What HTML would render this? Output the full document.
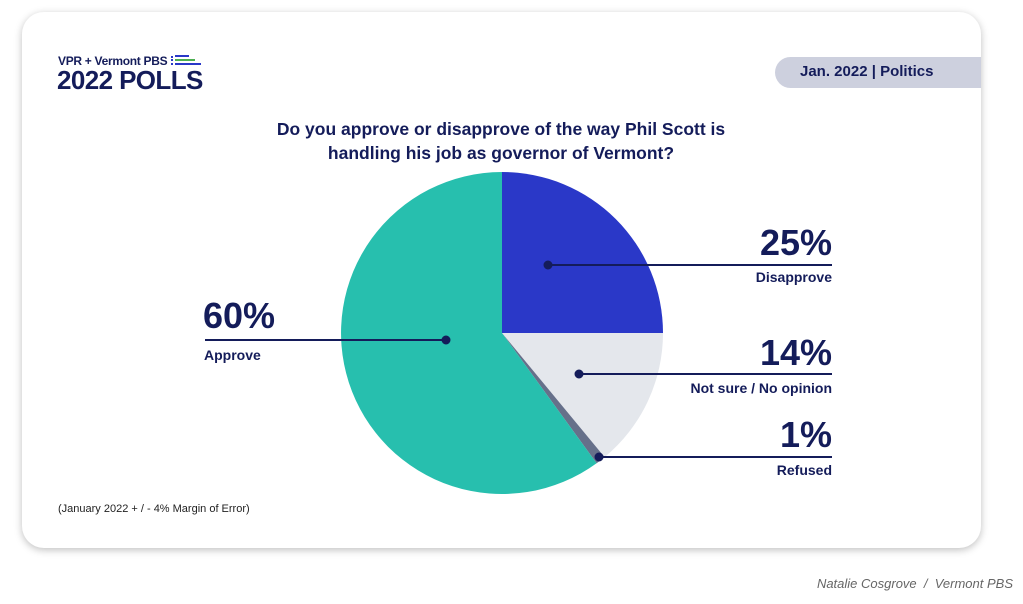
<!DOCTYPE html>
<html><head><style>
body{margin:0;width:1023px;height:604px;background:#fff;position:relative;font-family:"Liberation Sans",sans-serif;overflow:hidden}
.card{position:absolute;left:22px;top:12px;width:959px;height:536px;border-radius:22px;background:#fff;box-shadow:0 2px 8px rgba(0,0,0,.25)}
.t{position:absolute;color:#141c5a;font-weight:bold;white-space:nowrap}
</style></head><body>
<div class="card"></div>
<div class="t" style="left:58px;top:54px;font-size:12px;letter-spacing:-0.3px">VPR + Vermont PBS</div>
<div style="position:absolute;left:171px;top:56px;width:2px;height:9px;border-left:2px dotted #2a38c8"></div>
<div style="position:absolute;left:175px;top:55px;width:14px;height:2px;background:#2a38c8"></div>
<div style="position:absolute;left:175px;top:59px;width:20px;height:2px;background:#4caf50"></div>
<div style="position:absolute;left:175px;top:63px;width:26px;height:2px;background:#2a38c8"></div>
<div class="t" style="left:57px;top:65px;font-size:26px;letter-spacing:-0.6px">2022 POLLS</div>
<div style="position:absolute;left:775px;top:57px;width:206px;height:31px;background:#cdd0de;border-radius:16px 0 0 16px"></div>
<div class="t" style="left:800px;top:63px;font-size:15px">Jan. 2022 | Politics</div>
<div class="t" style="left:200px;top:117px;width:602px;text-align:center;font-size:17.5px;line-height:24px">Do you approve or disapprove of the way Phil Scott is<br>handling his job as governor of Vermont?</div>
<svg style="position:absolute;left:0;top:0" width="1023" height="604">
<path d="M502,333 L502,172 A161,161 0 0 1 663,333 Z" fill="#2a38c8"/>
<path d="M502,333 L663,333 A161,161 0 0 1 604.6,457.1 Z" fill="#e4e7ec"/>
<path d="M502,333 L604.6,457.1 A161,161 0 0 1 596.6,463.3 Z" fill="#66708a"/>
<path d="M502,333 L596.6,463.3 A161,161 0 1 1 502,172 Z" fill="#27bfae"/>
<g stroke="#141c5a" stroke-width="2" fill="#141c5a">
<line x1="548" y1="265" x2="832" y2="265"/><circle cx="548" cy="265" r="3.5"/>
<line x1="579" y1="374" x2="832" y2="374"/><circle cx="579" cy="374" r="3.5"/>
<line x1="599" y1="457" x2="832" y2="457"/><circle cx="599" cy="457" r="3.5"/>
<line x1="205" y1="340" x2="446" y2="340"/><circle cx="446" cy="340" r="3.5"/>
</g>
</svg>
<div class="t" style="right:191px;top:222px;font-size:36px">25%</div>
<div class="t" style="right:191px;top:269px;font-size:14px">Disapprove</div>
<div class="t" style="right:191px;top:332px;font-size:36px">14%</div>
<div class="t" style="right:191px;top:380px;font-size:14px">Not sure / No opinion</div>
<div class="t" style="right:191px;top:414px;font-size:36px">1%</div>
<div class="t" style="right:191px;top:462px;font-size:14px">Refused</div>
<div class="t" style="left:203px;top:295px;font-size:36px">60%</div>
<div class="t" style="left:204px;top:347px;font-size:14px">Approve</div>
<div style="position:absolute;left:58px;top:503px;font-size:11px;color:#222">(January 2022 + / - 4% Margin of Error)</div>
<div style="position:absolute;right:10px;top:576px;font-size:13px;font-style:italic;color:#666">Natalie Cosgrove &nbsp;/&nbsp; Vermont PBS</div>
</body></html>
